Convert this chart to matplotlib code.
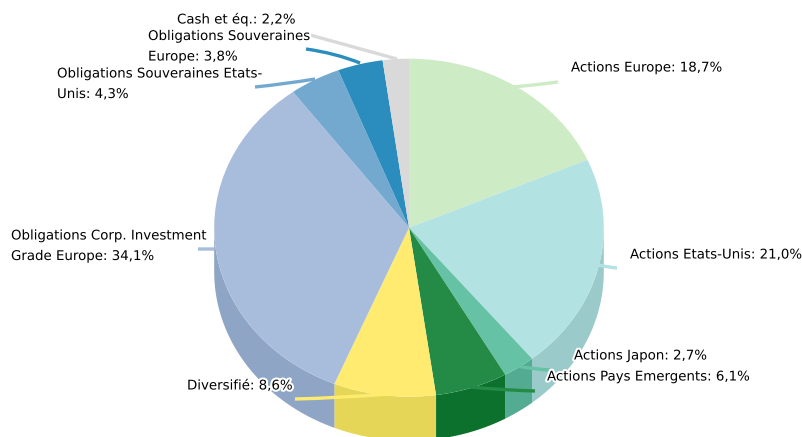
import numpy as np
import matplotlib
matplotlib.use("Agg")
import matplotlib.pyplot as plt
import matplotlib.patheffects as pe
from matplotlib.path import Path
from matplotlib.patches import PathPatch

categories = ["Actions Europe", "Actions Etats-Unis", "Actions Japon",
              "Actions Pays Emergents", "Diversifié",
              "Obligations Corp. Investment\nGrade Europe",
              "Obligations Souveraines Etats-\nUnis",
              "Obligations Souveraines\nEurope", "Cash et éq."]
values = [18.7, 21.0, 2.7, 6.1, 8.6, 34.1, 4.3, 3.8, 2.2]
value_labels = ["18,7%", "21,0%", "2,7%", "6,1%", "8,6%", "34,1%", "4,3%", "3,8%", "2,2%"]

top_colors = ["#CDEBC5", "#B2E2E1", "#66C2A4", "#238B45", "#FFEB70",
              "#A8BDDC", "#74A9CF", "#2B8CBE", "#D9D9D9"]
side_colors = ["#B0CAA9", "#9ACAC9", "#53AC92", "#0C712C", "#E6D657",
               "#8FA5C5", "#6391B2", "#2578A3", "#BBBBBB"]

W, H = 802, 437
CX, CY, RX, RY, DEPTH = 409, 227.7, 194.8, 169, 44

label_xy = [(571, 68), (630, 255), (574, 356), (547, 377), (187, 386),
            (11, 229.5), (57, 67.5), (148, 30), (177, 20)]
leader = [((513, 87), (535, 85), (558, 82)),
          ((598, 265), (607, 267), (617, 268)),
          ((517, 366), (532, 369), (550, 370)),
          ((470, 387), (500, 390), (535, 391)),
          ((388, 394), (340, 398), (295, 399)),
          ((214, 249), (206, 249), (198, 249)),
          ((315, 79), (285, 84), (255, 87)),
          ((360, 63), (335, 53), (306, 49)),
          ((397, 59), (350, 46), (310, 35))]

fig = plt.figure(figsize=(W / 100, H / 100), dpi=100)
ax = fig.add_axes([0, 0, 1, 1])
ax.pie(values, colors=top_colors, startangle=90, counterclock=False,
       radius=1, wedgeprops=dict(linewidth=0, zorder=3), normalize=True)
ax.set_aspect("auto")
ax.set_xlim(-CX / RX, (W - CX) / RX)
ax.set_ylim((CY - H) / RY, CY / RY)
ax.set_axis_off()

# side wall: lower half only, dropped by DEPTH
fractions = np.array(values) / sum(values)
edges = np.concatenate([[0], np.cumsum(fractions)]) * 360
d = DEPTH / RY
for a0, a1, col in zip(edges[:-1], edges[1:], side_colors):
    lo, hi = max(a0, 90), min(a1, 270)
    if hi <= lo:
        continue
    th = np.radians(np.linspace(lo, hi, 80))
    x, y = np.sin(th), np.cos(th)
    ax.fill(np.r_[x, x[::-1]], np.r_[y, y[::-1] - d], color=col, lw=0, zorder=2)

# overlay in pixel coordinates for leaders and labels
ov = fig.add_axes([0, 0, 1, 1])
ov.set_xlim(0, W)
ov.set_ylim(H, 0)
ov.set_axis_off()
ov.patch.set_alpha(0)
for pts, col in zip(leader, top_colors):
    path = Path(pts, [Path.MOVETO, Path.CURVE3, Path.CURVE3])
    ov.add_patch(PathPatch(path, fc="none", ec=col, lw=2.4, capstyle="butt", zorder=4))
for cat, val, (x, y) in zip(categories, value_labels, label_xy):
    ov.text(x, y, f"{cat}: {val}", ha="left", va="center" if "\n" not in cat else "top",
            fontsize=9.62, color="black", family="DejaVu Sans", linespacing=1.75, zorder=5,
            path_effects=[pe.withStroke(linewidth=3, foreground="white")])
fig.savefig("out.png", dpi=100)
